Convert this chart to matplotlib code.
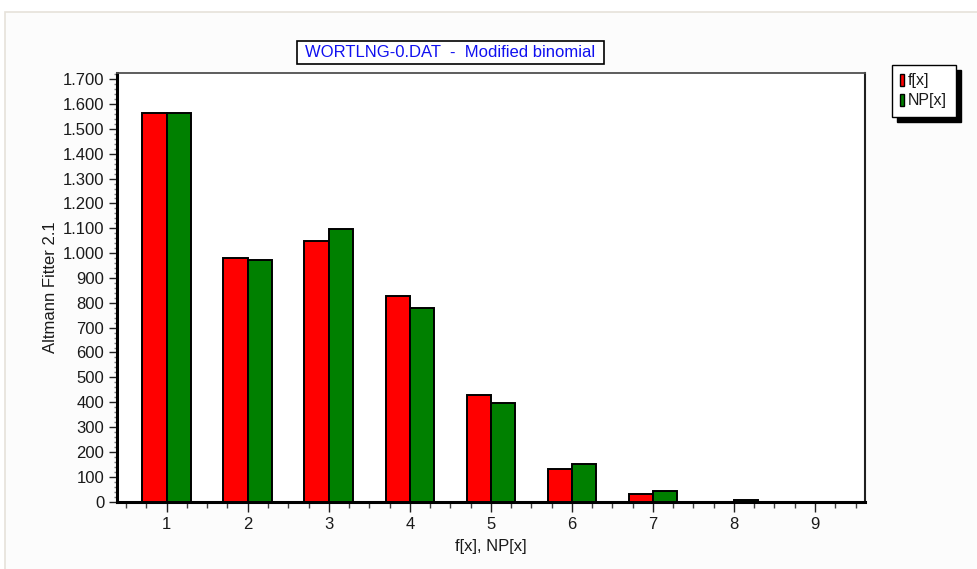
import matplotlib
matplotlib.use("Agg")
import matplotlib.pyplot as plt
from matplotlib.patches import Rectangle
from matplotlib.ticker import FixedLocator, MultipleLocator, FuncFormatter

plt.rcParams['font.family'] = ['Liberation Sans', 'DejaVu Sans']

# Observed and expected frequencies per word length
x_values = [1, 2, 3, 4, 5, 6, 7, 8, 9]
observed = [1565, 979, 1048, 827, 429, 130, 29, 0, 0]      # f[x]
expected = [1565, 972, 1099, 781, 396, 150, 43, 6, 0]      # NP[x]
series_names = ["f[x]", "NP[x]"]
series_colors = ["#FF0000", "#008000"]
title_text = "WORTLNG-0.DAT  -  Modified binomial"
x_label = "f[x], NP[x]"
y_label = "Altmann Fitter 2.1"
y_ticks = list(range(0, 1800, 100))

W, H = 977, 569
FS = 12
fig = plt.figure(figsize=(W / 100, H / 100), dpi=100)
fig.patch.set_facecolor("white")

def px(x0, y0, w, h):
    """Figure-fraction rectangle from pixel coordinates (top-left origin)."""
    return (x0 / W, 1 - (y0 + h) / H, w / W, h / H)

# panel background with light border
panel = Rectangle((5 / W, -0.05), 1, 1.05 - 12 / H, transform=fig.transFigure,
                  facecolor="#FCFCFC", edgecolor="#E6E2DA", linewidth=1.2, zorder=-1)
fig.patches.append(panel)

ax = fig.add_axes(px(116.7, 73.3, 865 - 116.7, 501.5 - 73.3))
ax.set_zorder(2)
ax.set_facecolor("white")

bw = 0.3
ax.bar(x_values, observed, width=-bw, align="edge", color=series_colors[0],
       edgecolor="black", linewidth=1.4, zorder=3)
ax.bar(x_values, expected, width=bw, align="edge", color=series_colors[1],
       edgecolor="black", linewidth=1.4, zorder=3)

ax.set_xlim(0.383, 9.617)
ax.set_ylim(0, 1724)

ax.xaxis.set_major_locator(FixedLocator(x_values))
ax.xaxis.set_minor_locator(MultipleLocator(0.25))
ax.yaxis.set_major_locator(FixedLocator(y_ticks))
ax.yaxis.set_minor_locator(MultipleLocator(20))
ax.yaxis.set_major_formatter(FuncFormatter(lambda v, p: f"{int(v):,}".replace(",", ".")))

ax.tick_params(axis="both", which="major", direction="out", labelsize=FS,
               colors="#202020", labelcolor="#1a1a1a")
ax.tick_params(axis="x", which="major", length=7, width=1, pad=4)
ax.tick_params(axis="x", which="minor", length=4, width=1, color="#404040")
ax.tick_params(axis="y", which="major", length=6, width=1, pad=3)
ax.tick_params(axis="y", which="minor", length=2.5, width=1, color="#808080")

for side in ("left", "bottom"):
    ax.spines[side].set_linewidth(2.2)
    ax.spines[side].set_color("black")
ax.spines["top"].set_linewidth(1.3)
ax.spines["top"].set_color("#505050")
ax.spines["right"].set_linewidth(1.5)
ax.spines["right"].set_color("#202020")

ax.set_xlabel(x_label, fontsize=FS, color="#1a1a1a", labelpad=5)
ax.set_ylabel(y_label, fontsize=FS, color="#1a1a1a", labelpad=3)

# title box
fig.patches.append(Rectangle(px(297, 41, 307, 23)[:2], 307 / W, 23 / H,
                             transform=fig.transFigure, facecolor="white",
                             edgecolor="black", linewidth=1.2, zorder=5))
fig.text(450.5 / W, 1 - 52.5 / H, title_text, color="#1010F0", fontsize=FS,
         ha="center", va="center", zorder=6)

# legend with drop shadow
lx, ly, lw, lh = 892, 65, 64, 52
fig.patches.append(Rectangle(px(lx + 5, ly + 5, lw, lh)[:2], lw / W, lh / H,
                             transform=fig.transFigure, facecolor="black",
                             edgecolor="black", zorder=5))
fig.patches.append(Rectangle(px(lx, ly, lw, lh)[:2], lw / W, lh / H,
                             transform=fig.transFigure, facecolor="white",
                             edgecolor="black", linewidth=1.0, zorder=6))
for i, (name, col) in enumerate(zip(series_names, series_colors)):
    cy = ly + 15 + i * 20
    fig.patches.append(Rectangle(px(lx + 8, cy - 6, 4, 12)[:2], 4 / W, 12 / H,
                                 transform=fig.transFigure, facecolor=col,
                                 edgecolor="black", linewidth=1.0, zorder=7))
    fig.text((lx + 16) / W, 1 - cy / H, name, fontsize=FS - 0.5, color="#1a1a1a",
             ha="left", va="center", zorder=7)

fig.savefig("out.png", dpi=100)
